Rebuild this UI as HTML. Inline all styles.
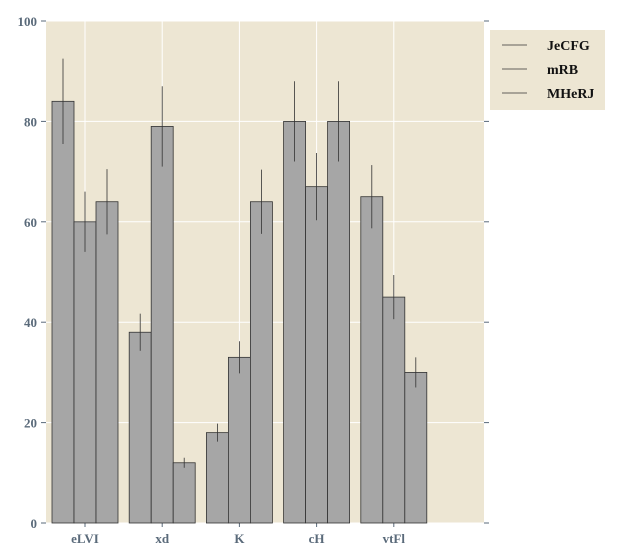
<!DOCTYPE html>
<html><head><meta charset="utf-8"><style>
body{margin:0;background:#fff;}
svg{display:block;font-family:"Liberation Serif",serif;}
</style></head><body>
<svg id="chart" width="640" height="560"></svg>
<script>
const categories=["eLVI","xd","K","cH","vtFl"];
const seriesNames=["JeCFG","mRB","MHeRJ"];
const valuesA=[84,38,18,80,65];
const valuesB=[60,79,33,67,45];
const valuesC=[64,12,64,80,30];
const errA=[8.5,3.7,1.8,8,6.3];
const errB=[6,8,3.2,6.7,4.4];
const errC=[6.5,1,6.4,8,3];
const yTicks=[0,20,40,60,80,100];
const NS="http://www.w3.org/2000/svg";
const svg=document.getElementById('chart');
const L=46,R=484,T=21,B=523;
const y=v=>B-(v/100)*(B-T);
const groupX=i=>52+i*77.2;
const barW=22;
function mk(tag,attrs,parent){const e=document.createElementNS(NS,tag);for(const k in attrs)e.setAttribute(k,attrs[k]);(parent||svg).appendChild(e);return e;}
const bg=mk('rect',{x:L,y:T,width:R-L,height:B-T,fill:'#ede6d3'});


yTicks.forEach(t=>{
  const g=mk('line',{x1:L,x2:R,y1:y(t),y2:y(t),stroke:'#fff','stroke-width':1});
  
  
  mk('line',{x1:L-5,x2:L,y1:y(t),y2:y(t),stroke:'#5a6a7a'});
  mk('line',{x1:R,x2:R+5,y1:y(t),y2:y(t),stroke:'#5a6a7a'});
  const tx=mk('text',{x:L-9,y:y(t)+5,'text-anchor':'end','font-size':13,'font-weight':'bold',fill:'#5a6a7a'});
  tx.textContent=t;
  
  
});
categories.forEach((c,i)=>{
  const cx=groupX(i)+barW*1.5;
  const g=mk('line',{x1:cx,x2:cx,y1:T,y2:B,stroke:'#fff'});
  
  
  mk('line',{x1:cx,x2:cx,y1:B,y2:B+4,stroke:'#5a6a7a'});
  const tx=mk('text',{x:cx,y:B+20,'text-anchor':'middle','font-size':13,'font-weight':'bold',fill:'#5a6a7a'});
  tx.textContent=c;
  
  
});
const vals=[valuesA,valuesB,valuesC],errs=[errA,errB,errC];
vals.forEach((vs,s)=>{
  vs.forEach((v,i)=>{
    const x0=groupX(i)+s*barW;
    const r=mk('rect',{x:x0,y:y(v),width:barW,height:B-y(v),fill:'#a6a6a6',stroke:'#333','stroke-width':0.8});
    
    
    const e=errs[s][i];
    const el=mk('line',{x1:x0+barW/2,x2:x0+barW/2,y1:y(v+e),y2:y(v-e),stroke:'#333','stroke-width':0.8});
    
    
  });
});
const lg=mk('g',{});


mk('rect',{x:490,y:30,width:115,height:80,fill:'#ede6d3'},lg);
seriesNames.forEach((n,i)=>{
  const yy=45+i*24;
  mk('line',{x1:502,x2:527,y1:yy,y2:yy,stroke:'#333','stroke-width':0.8},lg);
  const t=mk('text',{x:547,y:yy+5,'font-size':14,'font-weight':'bold',fill:'#111'},lg);
  t.textContent=n;
  
  
});
</script>
</body></html>
